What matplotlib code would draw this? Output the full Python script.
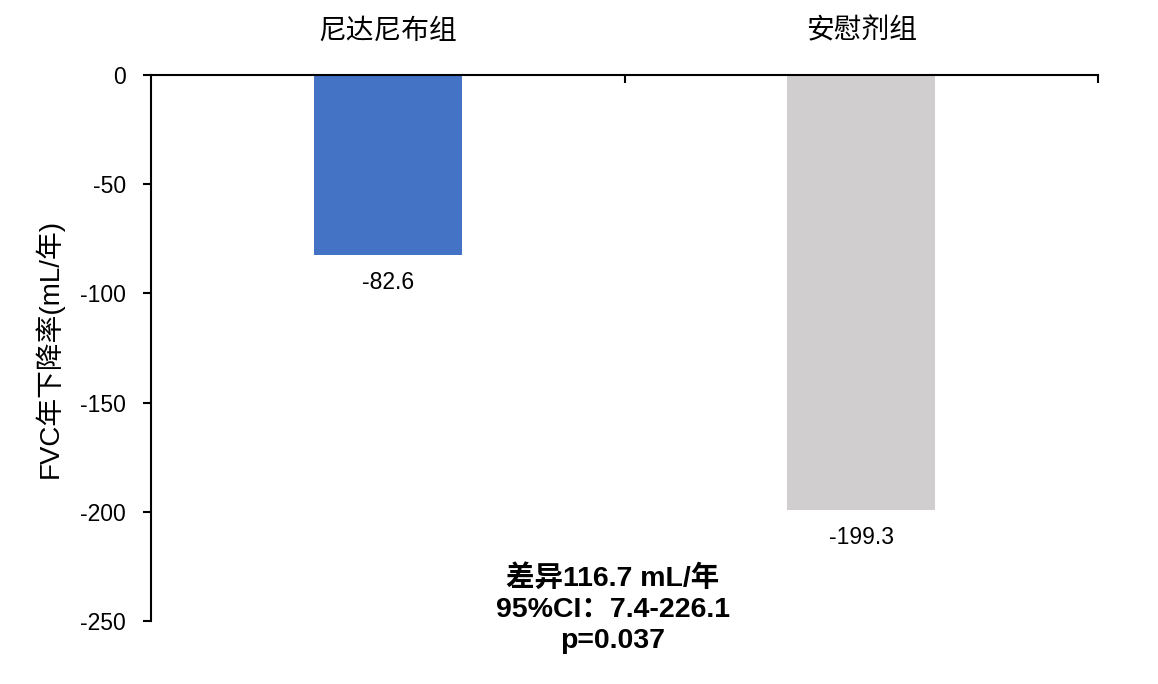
import matplotlib
matplotlib.use("Agg")
import matplotlib.pyplot as plt

# -----------------------------------
# DATA
# -----------------------------------

groups = ["尼达尼布组", "安慰剂组"]
fvc_decline = [-82.6, -199.3]
bar_colors = ["#4472C4", "#D0CECE"]
y_ticks = [0, -50, -100, -150, -200, -250]

ylabel = "FVC年下降率(mL/年)"
note = "差异116.7 mL/年\n95%CI：7.4-226.1\np=0.037"

# -----------------------------------
# STYLE
# -----------------------------------

plt.rcParams["font.family"] = ["Liberation Sans", "Noto Sans CJK SC", "DejaVu Sans"]

fig = plt.figure(figsize=(11.58, 6.84), dpi=100)
ax = fig.add_axes([0.1304, 0.0921, 0.8178, 0.7983])

x = list(range(len(groups)))

bars = ax.bar(x, fvc_decline, width=0.3125, color=bar_colors)

# value labels under each bar
for xi, v in zip(x, fvc_decline):
    ax.annotate(
        f"{v:.1f}",
        xy=(xi, v),
        xytext=(0, -11),
        textcoords="offset points",
        ha="center",
        va="top",
        fontsize=16.5,
    )

ax.set_xlim(-0.5, 1.5)
ax.set_ylim(-250, 0)

# x axis sits on top (value 0)
ax.xaxis.tick_top()
ax.set_xticks(x)
ax.set_xticklabels(groups, fontsize=20)
ax.tick_params(axis="x", which="major", length=0, pad=22)
ax.set_xticks([0.5, 1.5], minor=True)
ax.tick_params(axis="x", which="minor", direction="in", length=6, width=1.5)

ax.set_yticks(y_ticks)
ax.set_yticklabels([str(t) for t in y_ticks], fontsize=16.5)
ax.tick_params(axis="y", direction="out", length=6, width=1.5, pad=12)

ax.set_ylabel(ylabel, fontsize=20, labelpad=12)

for side in ["right", "bottom"]:
    ax.spines[side].set_visible(False)
ax.spines["left"].set_linewidth(1.5)
ax.spines["top"].set_linewidth(1.5)

ax.text(
    0.475,
    -244.5,
    note,
    ha="center",
    va="center",
    multialignment="center",
    fontsize=20.5,
    fontweight="bold",
    linespacing=1.27,
    clip_on=False,
)

plt.savefig("out.png", dpi=100)
plt.close()
